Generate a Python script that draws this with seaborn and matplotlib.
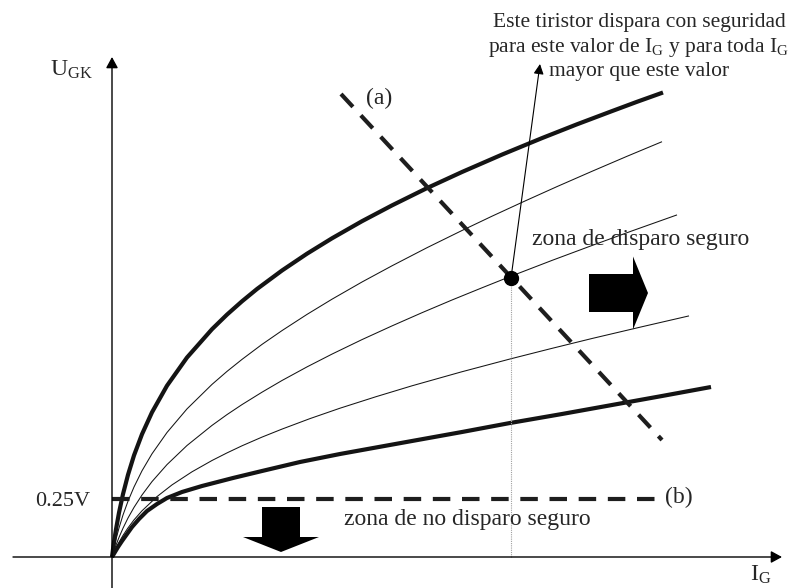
import matplotlib
matplotlib.use("Agg")
import matplotlib.pyplot as plt
import pandas as pd
import seaborn as sns

# Thyristor gate characteristics, schematic units: I_G on x, U_GK on y.
# Five curves of the device spread (upper limit, three intermediate, lower limit).
ig_max = [0, 1, 2, 4, 7, 11, 16, 22, 30, 40, 55, 75, 100, 115, 130, 145, 170, 195, 220,
          250, 280, 315, 350, 390, 430, 465, 500, 525, 551]
ugk_max = [0, 7.7, 14.8, 27.7, 44.3, 62.9, 82.2, 101.6, 122.8, 144.7, 171.3, 199.5, 227.8,
           242.4, 255.7, 268.0, 286.5, 303.3, 318.7, 335.8, 351.6, 368.9, 385.0, 402.4,
           418.9, 432.7, 445.9, 455.2, 464.5]

ig_2 = [0, 1, 2, 4, 7, 11, 16, 22, 30, 40, 55, 75, 100, 115, 130, 150, 170, 195, 220,
        250, 280, 315, 350, 380, 411, 445, 480, 515, 550]
ugk_2 = [0, 4.8, 9.4, 17.8, 29.0, 42.0, 55.8, 70.0, 86.2, 103.2, 124.5, 148.1, 172.6,
         185.6, 197.6, 212.6, 226.4, 242.6, 257.8, 275.0, 291.2, 309.3, 326.5, 340.8,
         355.1, 370.4, 385.7, 400.7, 415.3]

ig_3 = [0, 2, 4, 7, 11, 16, 22, 30, 40, 55, 75, 100, 115, 130, 150, 170, 195, 220, 250,
        280, 310, 340, 370, 399, 440, 480, 520, 565]
ugk_3 = [0, 6.2, 11.8, 19.6, 28.8, 39.0, 49.6, 62.0, 75.4, 92.4, 111.5, 131.6, 142.4,
         152.4, 164.8, 176.5, 190.1, 202.9, 217.4, 231.1, 244.3, 257.0, 269.2, 280.8,
         296.6, 311.5, 326.1, 342.1]

ig_4 = [0, 2, 4, 7, 11, 16, 22, 30, 45, 60, 80, 100, 115, 130, 150, 170, 198, 228, 264,
        300, 349, 398, 439, 480, 528, 577]
ugk_4 = [0, 4.6, 8.9, 14.7, 21.6, 29.1, 37.1, 46.2, 60.4, 72.1, 85.2, 96.5, 104.1, 111.2,
         119.9, 127.9, 138.4, 148.8, 160.3, 171.2, 185.0, 198.0, 208.4, 218.5, 229.8, 241.1]

ig_min = [0, 3, 6, 10, 15, 20, 27, 35, 45, 55, 70, 90, 121, 150, 188, 228, 300, 350, 398,
          450, 500, 550, 599]
ugk_min = [0, 5, 10, 16, 23, 30, 38, 46, 53, 59, 65, 71, 79, 86, 95, 103, 116, 125, 134,
           143, 152, 161, 170]

curve_names = ["max", "c2", "c3", "c4", "min"]

# 0.25 V gate threshold line (b)
threshold_ugk = 58
threshold_ig = [0, 550]

# gate load line (a) and the firing point on it
load_ig = [229, 550]
load_ugk = [463, 117]
fire_ig = 399
fire_ugk = 279

# ---------------------------------------------------------------------------
sns.set_theme(style="white")
plt.rcParams["font.family"] = ["Liberation Serif", "DejaVu Serif"]
plt.rcParams["mathtext.fontset"] = "custom"
plt.rcParams["mathtext.rm"] = "Liberation Serif"
plt.rcParams["mathtext.it"] = "Liberation Serif:italic"

ink = "#141414"

fig = plt.figure(figsize=(7.89, 5.88), dpi=100)
ax = fig.add_axes([0, 0, 1, 1])
ax.set_xlim(-112, 677)
ax.set_ylim(-31, 557)
ax.axis("off")

frames = []
for name, xs, ys in zip(curve_names,
                        [ig_max, ig_2, ig_3, ig_4, ig_min],
                        [ugk_max, ugk_2, ugk_3, ugk_4, ugk_min]):
    frames.append(pd.DataFrame({"IG": xs, "UGK": ys, "curve": name}))
df = pd.concat(frames, ignore_index=True)

sns.lineplot(data=df, x="IG", y="UGK", hue="curve", size="curve",
             hue_order=curve_names, size_order=curve_names,
             palette={n: ink for n in curve_names},
             sizes={"max": 3.0, "c2": 0.75, "c3": 0.75, "c4": 0.75, "min": 3.0},
             estimator=None, sort=False, legend=False, ax=ax)
for ln in ax.lines:
    ln.set_solid_joinstyle("round")
    ln.set_solid_capstyle("butt")

# coordinate axes with arrow heads
ax.annotate("", xy=(670, 0), xytext=(-99, 0),
            arrowprops=dict(arrowstyle="-|>,head_length=0.55,head_width=0.3",
                            lw=1.0, color="black", shrinkA=0, shrinkB=0,
                            mutation_scale=12))
ax.annotate("", xy=(0, 500), xytext=(0, -31),
            arrowprops=dict(arrowstyle="-|>,head_length=0.55,head_width=0.3",
                            lw=1.0, color="black", shrinkA=0, shrinkB=0,
                            mutation_scale=12))

# threshold line (b) and load line (a)
ax.plot(threshold_ig, [threshold_ugk, threshold_ugk], color="#1e1e1e", lw=3.0,
        linestyle=(0, (4.2, 2.8)), dash_capstyle="butt")
ax.plot(load_ig, load_ugk, color="#1e1e1e", lw=3.0,
        linestyle=(0, (4.2, 2.8)), dash_capstyle="butt")

# firing point, its projection on the I_G axis and the callout arrow
ax.plot([fire_ig, fire_ig], [0, fire_ugk], color="#a0a0a0", lw=0.8,
        linestyle=(0, (1, 1)))
ax.annotate("", xy=(428, 493), xytext=(fire_ig, fire_ugk),
            arrowprops=dict(arrowstyle="-|>,head_length=0.6,head_width=0.3",
                            lw=0.8, color="black", shrinkA=0, shrinkB=0,
                            mutation_scale=10))
ax.plot([fire_ig], [fire_ugk], "o", color="black", ms=10, zorder=5)

# block arrows marking the two zones
ax.arrow(477, 264, 59, 0, width=38, head_width=73, head_length=15,
         length_includes_head=True, color="black", lw=0)
ax.arrow(169, 50, 0, -45, width=38, head_width=76, head_length=15,
         length_includes_head=True, color="black", lw=0)

# labels
big = 17
ax.text(-41, 487, r"U$_{\mathrm{GK}}$", fontsize=big, ha="center", va="center")
ax.text(649, -18, r"I$_{\mathrm{G}}$", fontsize=big, ha="center", va="center")
ax.text(-22, 56, "0.25V", fontsize=16, ha="right", va="center")
ax.text(267, 459, "(a)", fontsize=big, ha="center", va="center")
ax.text(553, 60, "(b)", fontsize=big, ha="left", va="center")
ax.text(529, 312, "zona de disparo seguro", fontsize=big, ha="center", va="baseline")
ax.text(355, 32, "zona de no disparo seguro", fontsize=big, ha="center", va="baseline")

note = 15.5
ax.text(527, 530, "Este tiristor dispara con seguridad", fontsize=note,
        ha="center", va="baseline")
ax.text(527, 505, r"para este valor de I$_{\mathrm{G}}$ y para toda I$_{\mathrm{G}}$",
        fontsize=note, ha="center", va="baseline")
ax.text(527, 481, "mayor que este valor", fontsize=note, ha="center", va="baseline")

fig.savefig("out.png", dpi=100)
